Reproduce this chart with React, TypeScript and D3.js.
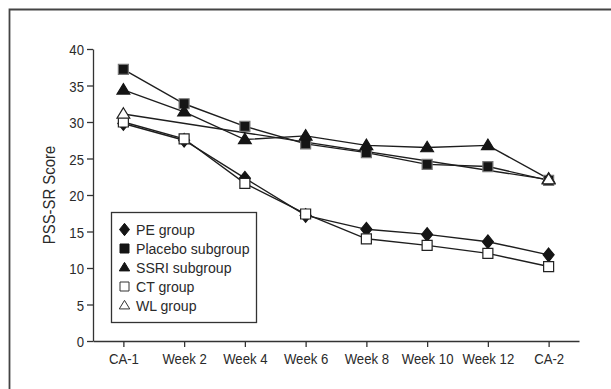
import React, { useEffect, useRef } from 'react';
import * as d3 from 'd3';

// time points along the x axis
const timepoints = ['CA-1', 'Week 2', 'Week 4', 'Week 6', 'Week 8', 'Week 10', 'Week 12', 'CA-2'];
const yTicks = [0, 5, 10, 15, 20, 25, 30, 35, 40];

const peGroup = [29.8, 27.5, 22.3, 17.2, 15.3, 14.6, 13.6, 11.8];
const placeboSubgroup = [37.2, 32.5, 29.4, 27.0, 25.8, 24.2, 23.9, 22.0];
const ssriSubgroup = [34.4, 31.4, 27.6, 28.1, 26.8, 26.5, 26.8, 22.2];
const ctGroup = [30.0, 27.7, 21.6, 17.4, 14.0, 13.1, 12.0, 10.2];
const wlGroup = [31.1, null, null, null, null, null, null, 22.1];

const series = [
  { name: 'PE group', values: peGroup, shape: 'diamond', filled: true },
  { name: 'Placebo subgroup', values: placeboSubgroup, shape: 'square', filled: true },
  { name: 'SSRI subgroup', values: ssriSubgroup, shape: 'triangle', filled: true },
  { name: 'CT group', values: ctGroup, shape: 'square', filled: false },
  { name: 'WL group', values: wlGroup, shape: 'triangle', filled: false },
];

const FONT = '"Liberation Sans", Arial, sans-serif';
const SQUEEZE = 0.85; // fake a condensed face
const TEXT = '#2a2a2a';

function markerPath(shape: string, s: number) {
  if (shape === 'square') return `M${-s / 2},${-s / 2}h${s}v${s}h${-s}Z`;
  if (shape === 'diamond') {
    const w = s * 0.5, h = s * 0.62;
    return `M0,${-h}L${w},0L0,${h}L${-w},0Z`;
  }
  // triangle pointing up
  const h = s * 0.95;
  return `M0,${-h * 0.6}L${s * 0.58},${h * 0.4}L${-s * 0.58},${h * 0.4}Z`;
}

export default function App() {
  const svgRef = useRef<SVGSVGElement | null>(null);

  useEffect(() => {
    if (!svgRef.current) return;
    const svg = d3.select(svgRef.current);
    svg.selectAll('*').remove();

    const width = 611;
    const height = 389;
    const margin = { top: 49, right: 32, bottom: 48, left: 93 };

    svg.append('rect')
      .attr('width', width).attr('height', height)
      .attr('fill', '#fff');

    // outer frame (runs off the right and bottom edges)
    svg.append('path')
      .attr('d', `M9.5,${height + 5}V9.5H${width + 5}`)
      .attr('fill', 'none')
      .attr('stroke', '#444')
      .attr('stroke-width', 1.8);

    const x = d3.scalePoint<string>()
      .domain(timepoints)
      .range([margin.left, width - margin.right])
      .padding(0.5);

    const y = d3.scaleLinear()
      .domain([0, 40])
      .range([height - margin.bottom, margin.top]);

    // axes
    const xAxis = svg.append('g')
      .attr('transform', `translate(0,${height - margin.bottom})`)
      .call(d3.axisBottom(x).tickSize(6).tickPadding(6).tickSizeOuter(0));
    const yAxis = svg.append('g')
      .attr('transform', `translate(${margin.left},0)`)
      .call(d3.axisLeft(y).tickValues(yTicks).tickSize(6).tickPadding(3).tickSizeOuter(0));

    [xAxis, yAxis].forEach(g => {
      g.select('.domain').attr('stroke', '#333').attr('stroke-width', 1.3);
      g.selectAll('.tick line').attr('stroke', '#333').attr('stroke-width', 1.3);
      g.selectAll('.tick text')
        .attr('fill', TEXT)
        .attr('font-family', FONT)
        .attr('font-size', 15.5);
    });
    xAxis.selectAll('.tick text').attr('transform', `scale(${SQUEEZE},1)`);
    yAxis.selectAll('.tick text')
      .attr('dy', '0.36em')
      .attr('x', 0)
      .attr('transform', `translate(-9,0) scale(${SQUEEZE},1)`);

    svg.append('text')
      .attr('transform', `translate(55,${(y(0) + y(40)) / 2}) rotate(-90) scale(0.93,1)`)
      .attr('text-anchor', 'middle')
      .attr('font-family', FONT)
      .attr('font-size', 16)
      .attr('fill', TEXT)
      .text('PSS-SR Score');

    // lines (only measured points are joined)
    series.forEach(s => {
      const pts = s.values
        .map((v, i) => ({ t: timepoints[i], v }))
        .filter(d => d.v !== null) as { t: string; v: number }[];
      svg.append('path')
        .datum(pts)
        .attr('fill', 'none')
        .attr('stroke', '#1e1e1e')
        .attr('stroke-width', 1.4)
        .attr('d', d3.line<{ t: string; v: number }>()
          .x(d => x(d.t) as number)
          .y(d => y(d.v)));
    });

    // markers
    series.forEach(s => {
      s.values.forEach((v, i) => {
        if (v === null) return;
        const size = s.shape === 'triangle' ? 11 : s.shape === 'diamond' ? 11 : 10;
        svg.append('path')
          .attr('transform', `translate(${x(timepoints[i])},${y(v)})`)
          .attr('d', markerPath(s.shape, size))
          .attr('fill', s.filled ? '#151515' : '#fff')
          .attr('stroke', s.filled ? (s.shape === 'square' ? '#777' : '#151515') : '#222')
          .attr('stroke-width', 1.2);
      });
    });

    // legend
    const legend = svg.append('g');
    legend.append('rect')
      .attr('x', 111.5).attr('y', 212.5)
      .attr('width', 145).attr('height', 110)
      .attr('fill', '#fff')
      .attr('stroke', '#333')
      .attr('stroke-width', 1.3);

    series.forEach((s, i) => {
      const cy = 229.5 + i * 19;
      legend.append('path')
        .attr('transform', `translate(124.5,${cy})`)
        .attr('d', markerPath(s.shape, s.shape === 'diamond' ? 10 : 9))
        .attr('fill', s.filled ? '#151515' : '#fff')
        .attr('stroke', s.filled ? '#151515' : '#333')
        .attr('stroke-width', 1);
      legend.append('text')
        .attr('transform', `translate(136,${cy}) scale(0.91,1)`)
        .attr('dy', '0.36em')
        .attr('font-family', FONT)
        .attr('font-size', 15.5)
        .attr('fill', TEXT)
        .text(s.name);
    });
  }, []);

  return (
    <svg
      ref={svgRef}
      width={611}
      height={389}
      style={{ position: 'absolute', left: 0, top: 0, display: 'block' }}
    />
  );
}
